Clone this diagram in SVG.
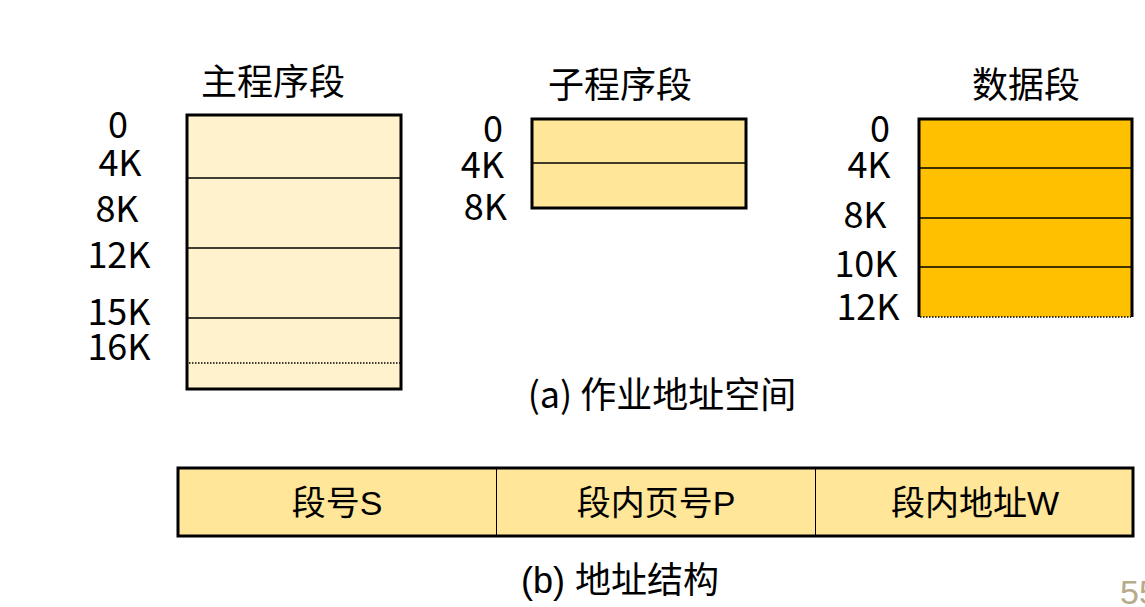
<svg xmlns="http://www.w3.org/2000/svg" width="1145" height="607" viewBox="0 0 1145 607">
<style>
.t{font-family:"Noto Sans CJK SC","Noto Sans",sans-serif;font-size:36px;fill:#000}
.b{font-family:"Liberation Sans","Noto Sans CJK SC",sans-serif;font-size:34px;fill:#000}
.c{font-family:"Liberation Sans","Noto Sans CJK SC",sans-serif;font-size:36px;fill:#000}
.box{stroke:#000;stroke-width:3}
.ln{stroke:#000;stroke-width:1.5}
.dot{stroke:#000;stroke-width:1.5;stroke-dasharray:1.5 1.5}
</style>
<rect width="1145" height="607" fill="#fff"/>
<g id="main-segment">
<text class="t" x="273" y="95" text-anchor="middle">主程序段</text>
<rect class="box" x="187" y="115" width="214" height="274" fill="#fff2cc"/>
<line class="ln" x1="188" y1="178" x2="400" y2="178"/>
<line class="ln" x1="188" y1="248" x2="400" y2="248"/>
<line class="ln" x1="188" y1="318" x2="400" y2="318"/>
<line class="dot" x1="189" y1="363" x2="400" y2="363"/>
<g class="t" text-anchor="middle">
<text x="118" y="138">0</text>
<text x="120" y="176">4K</text>
<text x="117" y="222">8K</text>
<text x="119" y="268">12K</text>
<text x="119" y="325">15K</text>
<text x="119" y="360">16K</text>
</g>
</g>
<g id="sub-segment">
<text class="t" x="620" y="98" text-anchor="middle">子程序段</text>
<rect class="box" x="532" y="119" width="214" height="89" fill="#ffe699"/>
<line class="ln" x1="533" y1="163" x2="745" y2="163"/>
<g class="t" text-anchor="end">
<text x="503" y="142">0</text>
<text x="504" y="178">4K</text>
<text x="507" y="220">8K</text>
</g>
</g>
<g id="data-segment">
<text class="t" x="1026" y="98" text-anchor="middle">数据段</text>
<rect x="919" y="119" width="213" height="198" fill="#ffc000"/>
<path class="box" d="M919,317 V119 H1132 V317" fill="none"/>
<line class="ln" x1="920" y1="168" x2="1131" y2="168"/>
<line class="ln" x1="920" y1="218" x2="1131" y2="218"/>
<line class="ln" x1="920" y1="267" x2="1131" y2="267"/>
<line class="dot" x1="920" y1="317" x2="1131" y2="317"/>
<g class="t" text-anchor="middle">
<text x="880" y="142">0</text>
<text x="869" y="178">4K</text>
<text x="865" y="228">8K</text>
<text x="866" y="277">10K</text>
<text x="868" y="320">12K</text>
</g>
</g>
<text class="t" x="662" y="408" text-anchor="middle" font-size="37">(a) 作业地址空间</text>
<g id="address-structure">
<rect class="box" x="178" y="468" width="955" height="68" fill="#ffe699"/>
<line stroke="#000" stroke-width="1" x1="496.5" y1="469" x2="496.5" y2="535"/>
<line stroke="#000" stroke-width="1" x1="815.5" y1="469" x2="815.5" y2="535"/>
<text class="b" x="337" y="515" text-anchor="middle">段号S</text>
<text class="b" x="656" y="515" text-anchor="middle">段内页号P</text>
<text class="b" x="975" y="515" text-anchor="middle">段内地址W</text>
</g>
<text class="c" x="620" y="593" text-anchor="middle">(b) 地址结构</text>
<text x="1120" y="604" font-family="Liberation Sans,sans-serif" font-size="34" fill="#b5ab8a">55</text>
</svg>
